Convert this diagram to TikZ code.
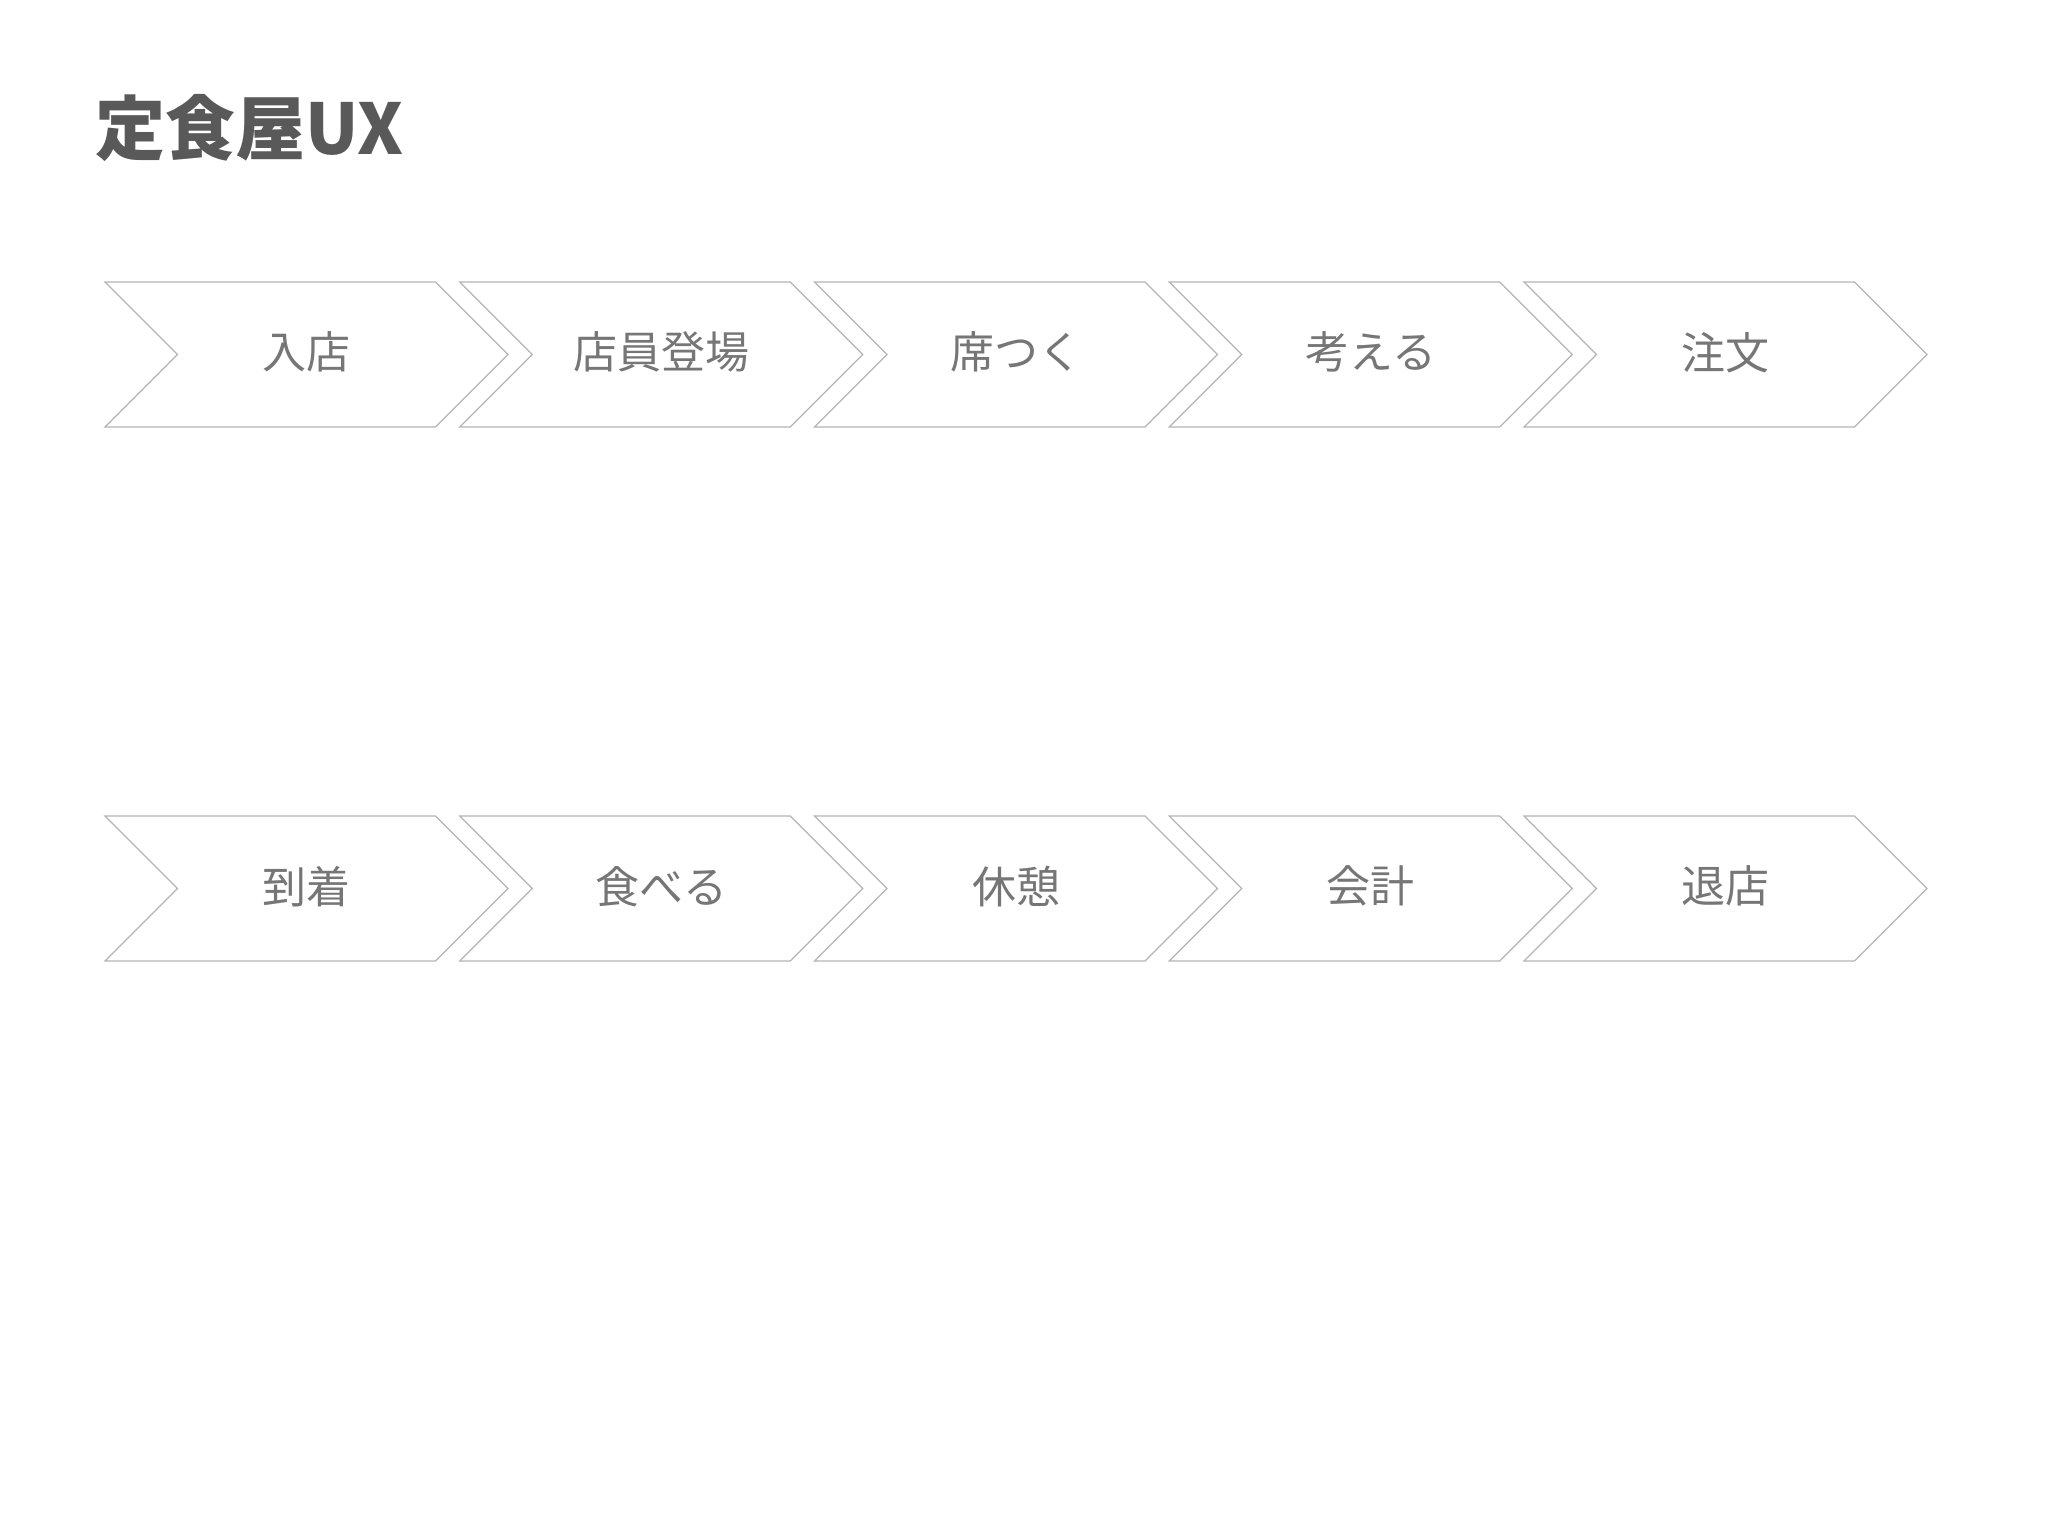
\documentclass[tikz,border=0pt]{standalone}
\usepackage{fontspec}
\setmainfont{Noto Sans CJK JP}
\usetikzlibrary{shapes.symbols}
\definecolor{linegray}{HTML}{B4B4B4}
\definecolor{labelgray}{HTML}{767676}
\definecolor{titlegray}{HTML}{595959}
\tikzset{
    stage/.style={signal, signal from=west, signal to=east,
        signal pointer angle=90, draw=linegray, line width=1.2pt,
        minimum width=403pt, minimum height=145pt, inner sep=0pt,
        text=labelgray, font=\fontsize{44}{44}\selectfont},
    heading/.style={anchor=base west, inner sep=0pt, text=titlegray,
        font=\fontsize{70}{70}\selectfont\bfseries}
}
\newcommand{\stagetext}[1]{\raisebox{8pt}{#1}}

\begin{document}
\begin{tikzpicture}[x=1pt, y=-1pt]
    \useasboundingbox (0,0) rectangle (2048,1536);
    \node[heading] (title) at (95,155) {定食屋UX};
    % first row
    \foreach \lbl [count=\i from 0] in {入店,店員登場,席つく,考える,注文}
        \node[stage] (visit\i) at (306.5+\i*354.75, 354.5) {\stagetext{\lbl}};
    % second row
    \foreach \lbl [count=\i from 0] in {到着,食べる,休憩,会計,退店}
        \node[stage] (meal\i) at (306.5+\i*354.75, 888.5) {\stagetext{\lbl}};
\end{tikzpicture}
\end{document}
